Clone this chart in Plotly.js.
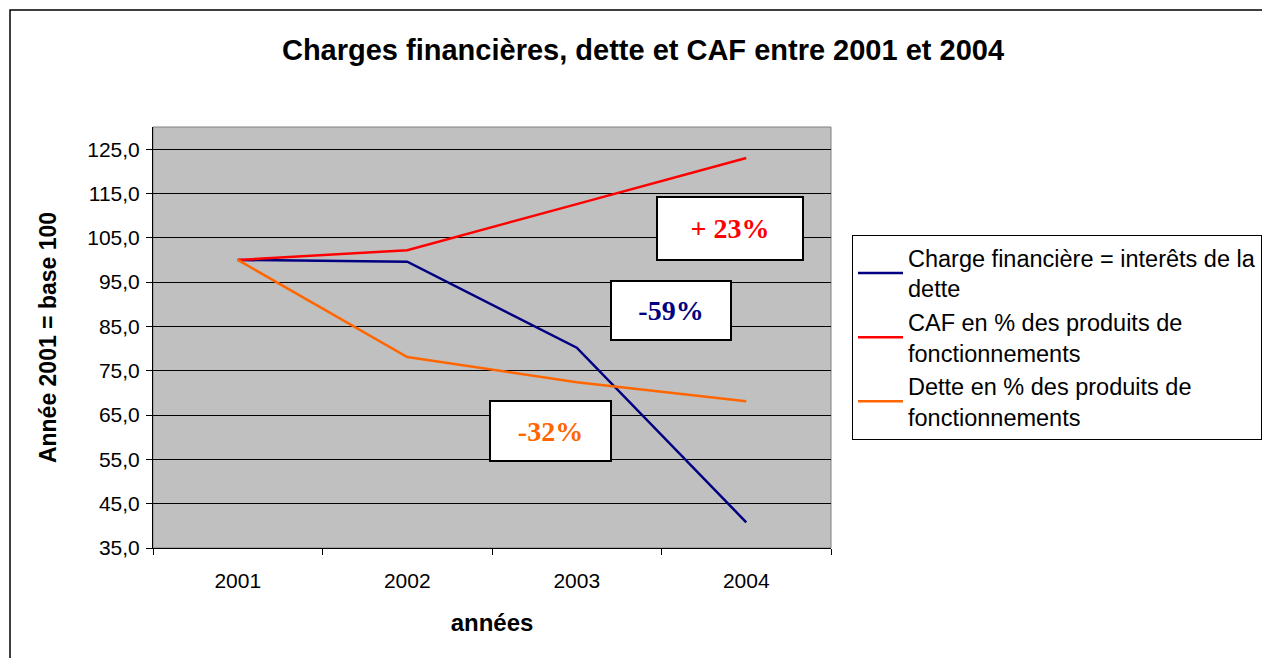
<!DOCTYPE html>
<html>
<head>
<meta charset="utf-8">
<script src="https://cdn.plot.ly/plotly-3.0.1.min.js"></script>
<style>
html,body{margin:0;padding:0;background:#fff;}
#chart{width:1262px;height:658px;}
</style>
</head>
<body>
<div id="chart"></div>
<script>
const years = ['2001', '2002', '2003', '2004'];
const chargeFinanciere = [100, 99.6, 80.2, 40.8];
const cafProduits = [100, 102.2, 112.6, 123.0];
const detteProduits = [100, 78.1, 72.4, 68.1];
const seriesNames = [
  'Charge financière = interêts de la<br>dette',
  'CAF en % des produits de<br>fonctionnements',
  'Dette en % des produits de<br>fonctionnements'
];
const seriesColors = ['#000080', '#FF0000', '#FF6600'];
const yTickValues = [35, 45, 55, 65, 75, 85, 95, 105, 115, 125];
const labelTexts = ['+ 23%', '-59%', '-32%'];

const seriesValues = [chargeFinanciere, cafProduits, detteProduits];
const traces = seriesValues.map((vals, i) => ({
  type: 'scatter',
  mode: 'lines',
  x: years,
  y: vals,
  name: seriesNames[i],
  legendgroup: 'g' + i,
  line: {color: seriesColors[i], width: 2.5},
  hoverinfo: 'x+y'
}));

const boxColors = ['#FF0000', '#000080', '#FF6600'];
const boxPos = [
  {x: 0.851, y: 0.759, w: 144, h: 61},
  {x: 0.764, y: 0.564, w: 118, h: 57},
  {x: 0.586, y: 0.278, w: 119, h: 58}
];
const annotations = labelTexts.map((t, i) => ({
  xref: 'paper', yref: 'paper',
  x: boxPos[i].x, y: boxPos[i].y,
  xanchor: 'center', yanchor: 'middle',
  text: '<b>' + t + '</b>',
  showarrow: false,
  font: {family: 'Liberation Serif, Times New Roman, serif', size: 28, color: boxColors[i]},
  bgcolor: '#FFFFFF',
  bordercolor: '#000000',
  borderwidth: 2,
  borderpad: 0,
  width: boxPos[i].w,
  height: boxPos[i].h
}));

const layout = {
  width: 1262,
  height: 658,
  margin: {l: 153, r: 431, t: 127, b: 110, autoexpand: false},
  paper_bgcolor: '#FFFFFF',
  plot_bgcolor: '#C0C0C0',
  font: {family: 'Liberation Sans, Arial, sans-serif', color: '#000000', size: 21},
  title: {
    text: '<b>Charges financières, dette et CAF entre 2001 et 2004</b>',
    font: {family: 'Liberation Sans, Arial, sans-serif', size: 29, color: '#000'},
    xref: 'container', yref: 'container',
    x: 643 / 1262, y: 1 - 50 / 658,
    xanchor: 'center', yanchor: 'middle'
  },
  xaxis: {
    type: 'category',
    tickson: 'boundaries',
    ticks: 'outside',
    ticklen: 6,
    tickcolor: '#000',
    showgrid: false,
    showline: true,
    linecolor: '#000',
    linewidth: 1,
    tickfont: {size: 21},
    ticklabelstandoff: 14,
    title: {text: '<b>années</b>', font: {size: 24}, standoff: 22},
    range: [-0.5, 3.5]
  },
  yaxis: {
    range: [35, 130],
    tickvals: yTickValues,
    tickformat: '.1f',
    ticks: 'outside',
    ticklen: 6,
    tickcolor: '#000',
    showgrid: true,
    gridcolor: '#000000',
    gridwidth: 1,
    zeroline: false,
    showline: true,
    linecolor: '#000',
    linewidth: 1,
    tickfont: {size: 21},
    ticklabelstandoff: 2,
    title: {text: '<b>Année 2001 = base 100</b>', font: {size: 23}, standoff: 24}
  },
  separators: ', ',
  showlegend: true,
  legend: {
    x: (852 - 153) / 678, y: (548 - 235) / 421,
    xanchor: 'left', yanchor: 'top',
    bgcolor: '#FFFFFF',
    bordercolor: '#000000',
    borderwidth: 1,
    font: {size: 23.5, color: '#000'},
    itemwidth: 45,
    traceorder: 'normal',
    tracegroupgap: 8
  },
  shapes: [
    {type: 'rect', xref: 'paper', yref: 'paper', x0: 0, x1: 1, y0: 0, y1: 1,
     line: {color: '#808080', width: 1}, fillcolor: 'rgba(0,0,0,0)', layer: 'below'},
    {type: 'rect', xref: 'paper', yref: 'paper',
     x0: (10 - 153) / 678, x1: (1280 - 153) / 678,
     y0: (548 - 680) / 421, y1: (548 - 10) / 421,
     line: {color: '#000000', width: 1.5}, fillcolor: 'rgba(0,0,0,0)'}
  ],
  annotations: annotations
};

Plotly.newPlot('chart', traces, layout, {displayModeBar: false, responsive: false});
</script>
</body>
</html>
